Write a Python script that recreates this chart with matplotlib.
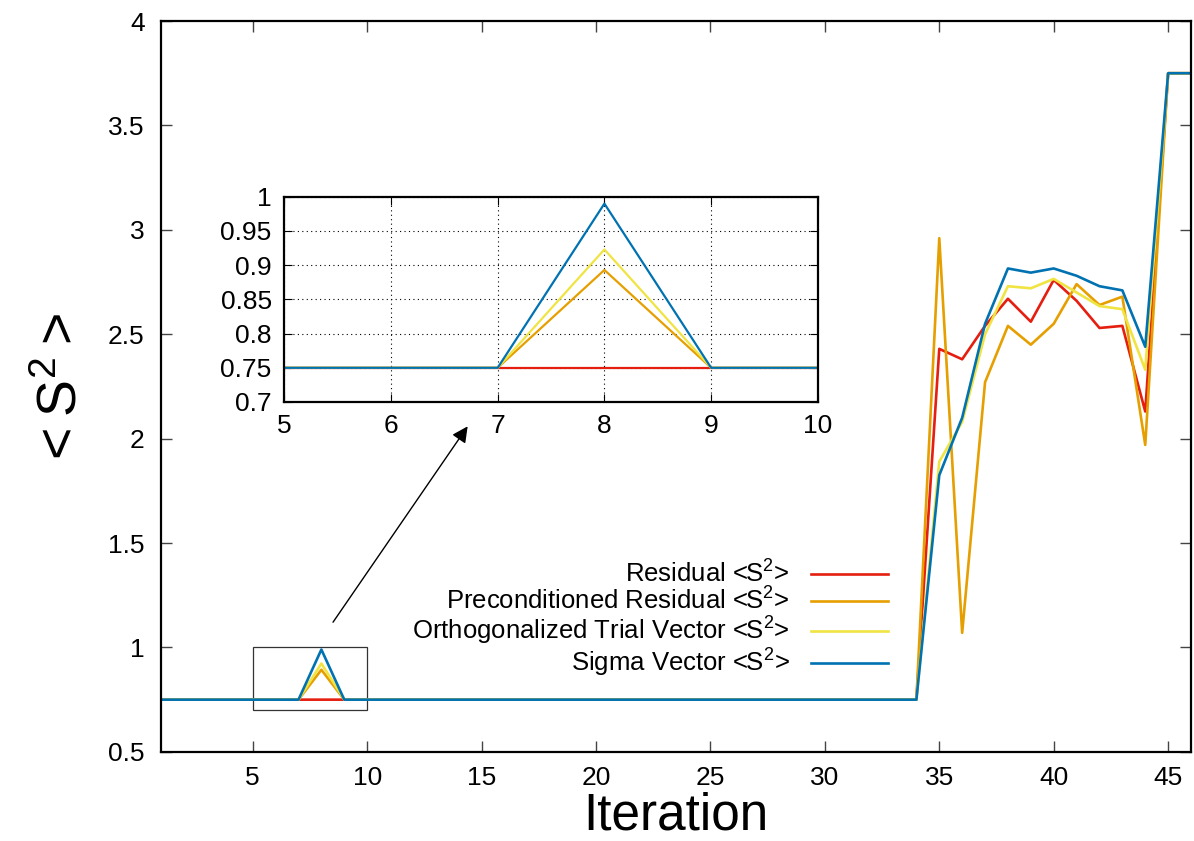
import numpy as np
import matplotlib
matplotlib.use('Agg')
import matplotlib.pyplot as plt
from matplotlib.ticker import FormatStrFormatter
from matplotlib.patches import Rectangle

plt.rcParams['font.family'] = ['Liberation Sans', 'DejaVu Sans']
plt.rcParams['mathtext.fontset'] = 'custom'
plt.rcParams['mathtext.rm'] = 'Liberation Sans'
plt.rcParams['mathtext.it'] = 'Liberation Sans:italic'

# data
iteration = np.arange(1, 47)
base = [0.75] * 34
peak = {'residual': 0.75, 'precond': 0.893, 'ortho': 0.923, 'sigma': 0.99}

tail_residual = [2.43, 2.38, 2.54, 2.67, 2.56, 2.76, 2.66, 2.53, 2.54, 2.13, 3.75, 3.75]
tail_precond = [2.96, 1.07, 2.27, 2.54, 2.45, 2.55, 2.74, 2.64, 2.68, 1.97, 3.75, 3.75]
tail_ortho = [1.89, 2.08, 2.50, 2.73, 2.72, 2.765, 2.70, 2.635, 2.62, 2.33, 3.75, 3.75]
tail_sigma = [1.825, 2.10, 2.55, 2.815, 2.795, 2.815, 2.78, 2.73, 2.71, 2.44, 3.75, 3.75]

def series(p, tail):
    s = list(base) + list(tail)
    s[7] = p
    return np.array(s)

residual = series(peak['residual'], tail_residual)
precond = series(peak['precond'], tail_precond)
ortho = series(peak['ortho'], tail_ortho)
sigma = series(peak['sigma'], tail_sigma)

labels = ['Residual <S$^2$>', 'Preconditioned Residual <S$^2$>',
          'Orthogonalized Trial Vector <S$^2$>', 'Sigma Vector <S$^2$>']
colors = ['#e51e10', '#e69f00', '#f0e442', '#0072b2']
all_series = [residual, precond, ortho, sigma]

fig = plt.figure(figsize=(11.94, 8.41), dpi=100)
ax = fig.add_axes([0.135, 0.106, 0.8625, 0.869])

for s, c, l in zip(all_series, colors, labels):
    ax.plot(iteration, s, color=c, lw=1.9, label=l)

ax.set_xlim(1, 46)
ax.set_ylim(0.5, 4)
ax.set_xticks(range(5, 46, 5))
ax.set_yticks(np.arange(0.5, 4.01, 0.5))
ax.yaxis.set_major_formatter(FormatStrFormatter('%g'))
ax.tick_params(direction='in', top=True, right=True, length=8, width=1,
               labelsize=19, color='#444444')
ax.tick_params(axis='y', pad=12)
ax.tick_params(axis='x', pad=10)
for sp in ax.spines.values():
    sp.set_linewidth(1.6)
ax.set_xlabel('Iteration', fontsize=37, labelpad=1)
ax.set_ylabel('<\u2009S$^2$\u2009>', fontsize=40, labelpad=14)

leg = ax.legend(loc='upper right', bbox_to_anchor=(0.706, 0.262), frameon=False,
                markerfirst=False, fontsize=18.5, handlelength=3.0,
                handletextpad=0.85, labelspacing=0.0, borderpad=0, borderaxespad=0)

# zoom box and arrow
ax.add_patch(Rectangle((5, 0.7), 5, 0.3, fill=False, lw=0.9, edgecolor='#333333'))
ax.annotate('', xy=(14.46, 2.07), xytext=(8.44, 1.11),
            arrowprops=dict(arrowstyle='-|>', lw=1, color='black', mutation_scale=24))

# inset
axin = fig.add_axes([0.238, 0.522, 0.447, 0.244])
for s, c in zip(all_series, colors):
    axin.plot(iteration, s, color=c, lw=1.6)
axin.set_xlim(5, 10)
axin.set_ylim(0.7, 1.0)
axin.set_xticks(range(5, 11))
axin.set_yticks(np.arange(0.7, 1.001, 0.05))
axin.yaxis.set_major_formatter(FormatStrFormatter('%g'))
axin.grid(True, color='black', ls=(0, (1, 3)), lw=0.8)
axin.tick_params(direction='in', top=True, right=True, length=6,
                 labelsize=19, pad=9)
for sp in axin.spines.values():
    sp.set_linewidth(1.6)

fig.savefig('out.png', dpi=100)
